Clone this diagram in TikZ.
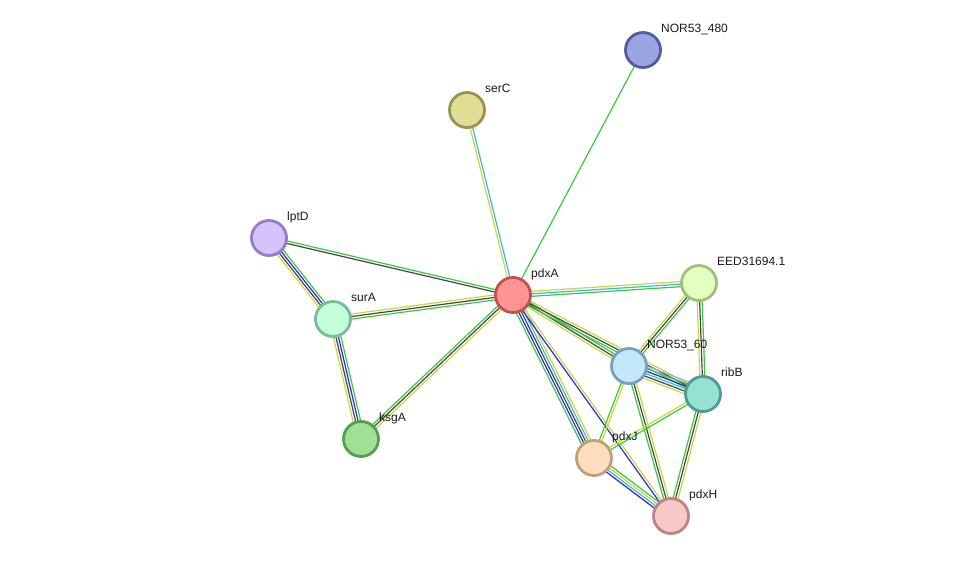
\documentclass[tikz,border=0pt]{standalone}
\usepackage{fontspec}
\setmainfont{Liberation Sans}
\usetikzlibrary{calc,backgrounds}
\definecolor{etext}{RGB}{199,216,60}
\definecolor{ecoex}{RGB}{70,70,70}
\definecolor{eneigh}{RGB}{60,200,60}
\definecolor{ecooc}{RGB}{40,40,235}
\definecolor{edb}{RGB}{60,185,225}
\definecolor{ehom}{RGB}{165,165,250}
\definecolor{fnorA}{RGB}{155,165,225}\definecolor{bnorA}{RGB}{80,92,160}
\definecolor{fserC}{RGB}{224,222,150}\definecolor{bserC}{RGB}{152,148,80}
\definecolor{flptD}{RGB}{212,195,255}\definecolor{blptD}{RGB}{148,125,200}
\definecolor{fpdxA}{RGB}{255,148,148}\definecolor{bpdxA}{RGB}{195,80,80}
\definecolor{feed}{RGB}{226,255,192}\definecolor{beed}{RGB}{160,192,122}
\definecolor{fsurA}{RGB}{195,255,218}\definecolor{bsurA}{RGB}{122,188,150}
\definecolor{fnorB}{RGB}{195,232,252}\definecolor{bnorB}{RGB}{122,160,190}
\definecolor{fribB}{RGB}{150,225,212}\definecolor{bribB}{RGB}{80,155,145}
\definecolor{fksgA}{RGB}{160,224,148}\definecolor{bksgA}{RGB}{85,158,82}
\definecolor{fpdxJ}{RGB}{255,222,192}\definecolor{bpdxJ}{RGB}{190,160,122}
\definecolor{fpdxH}{RGB}{248,200,200}\definecolor{bpdxH}{RGB}{190,130,130}
\tikzset{
  prot/.style={circle, minimum size=35pt, inner sep=0pt, line width=2.8pt},
  plabel/.style={anchor=base west, inner sep=0pt, font=\fontsize{12}{14}\selectfont, text=black!90}
}
\newcommand\bundle[3]{%
  \xdef\nnb{0}%
  \foreach \c in {#3}{\xdef\nnb{\the\numexpr\nnb+1\relax}}%
  \foreach \c [count=\i] in {#3}{%
    \pgfmathsetmacro\off{(\i-(\nnb+1)/2)*2.5}%
    \draw[line width=1.2pt, \c] ($(#1.center)!\off pt!90:(#2.center)$) -- ($(#2.center)!\off pt!-90:(#1.center)$);
  }}
\newcommand\protnode[6]{% name, x, y, fill, border, label
  \node[prot, fill=#4, draw=#5] (#1) at (#2,#3) {};
  \node[plabel] (#1-l) at (#2+18,#3-17.5) {#6};
}
\begin{document}
\begin{tikzpicture}[x=1pt,y=-1pt]
\useasboundingbox (0,0) rectangle (976,561);
\protnode{nor480}{643}{50}{fnorA}{bnorA}{NOR53\_480}
\protnode{serC}{467}{110}{fserC}{bserC}{serC}
\protnode{lptD}{269}{238}{flptD}{blptD}{lptD}
\protnode{pdxA}{513}{295}{fpdxA}{bpdxA}{pdxA}
\protnode{eed}{699}{283}{feed}{beed}{EED31694.1}
\protnode{surA}{333}{319}{fsurA}{bsurA}{surA}
\protnode{nor60}{629}{366}{fnorB}{bnorB}{NOR53\_60}
\protnode{ribB}{703}{394}{fribB}{bribB}{ribB}
\protnode{ksgA}{361}{439}{fksgA}{bksgA}{ksgA}
\protnode{pdxJ}{594}{458}{fpdxJ}{bpdxJ}{pdxJ}
\protnode{pdxH}{671}{516}{fpdxH}{bpdxH}{pdxH}
\begin{pgfonlayer}{background}
\bundle{pdxA}{nor480}{eneigh}
\bundle{pdxA}{serC}{edb,etext}
\bundle{pdxA}{lptD}{eneigh,ecoex}
\bundle{pdxA}{surA}{etext,ecoex,eneigh}
\bundle{lptD}{surA}{etext,ecoex,ecooc,eneigh}
\bundle{surA}{ksgA}{etext,ecoex,ecooc,eneigh}
\bundle{ksgA}{pdxA}{etext,ecoex,eneigh}
\bundle{pdxA}{eed}{eneigh,edb,etext}
\bundle{pdxA}{nor60}{etext,ecoex,eneigh}
\bundle{pdxA}{ribB}{eneigh,ecoex,etext}
\bundle{pdxJ}{pdxA}{etext,edb,ecoex,ecooc,eneigh}
\bundle{pdxA}{pdxH}{ecooc,etext}
\bundle{eed}{nor60}{etext,ecoex,eneigh}
\bundle{eed}{ribB}{etext,ecoex,eneigh}
\bundle{nor60}{ribB}{etext,ecoex,edb,ecooc,eneigh,ehom}
\bundle{nor60}{pdxJ}{eneigh,etext}
\bundle{nor60}{pdxH}{eneigh,ecoex,etext}
\bundle{ribB}{pdxJ}{etext,eneigh}
\bundle{ribB}{pdxH}{eneigh,ecoex,etext}
\bundle{pdxJ}{pdxH}{ecooc,edb,etext,eneigh}
\end{pgfonlayer}
\end{tikzpicture}
\end{document}
